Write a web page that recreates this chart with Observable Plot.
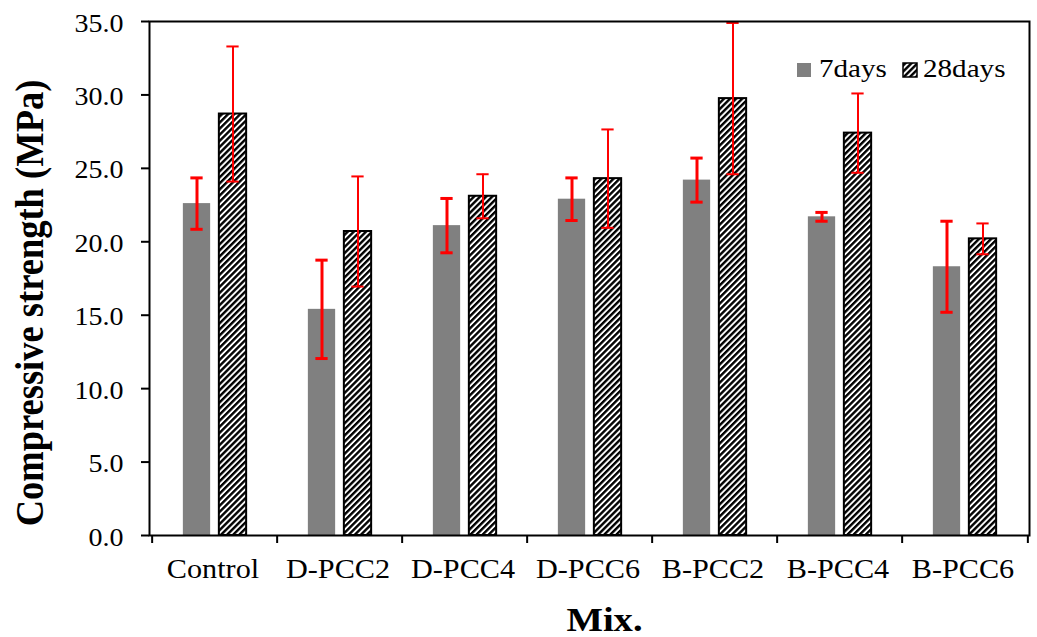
<!DOCTYPE html>
<html>
<head>
<meta charset="utf-8">
<script src="https://cdn.jsdelivr.net/npm/d3@7"></script>
<script src="https://cdn.jsdelivr.net/npm/@observablehq/plot@0.6"></script>
<style>
  html, body { margin: 0; padding: 0; background: #fff; }
  #chart { position: relative; width: 1037px; height: 637px; }
</style>
</head>
<body>
<div id="chart"></div>
<script>
// ---- data ----
const mixes = ["Control", "D-PCC2", "D-PCC4", "D-PCC6", "B-PCC2", "B-PCC4", "B-PCC6"];
const series = ["7days", "28days"];
const strength7 = [22.6, 15.4, 21.1, 22.9, 24.2, 21.7, 18.3];
const sd7 = [1.75, 3.35, 1.85, 1.45, 1.5, 0.3, 3.1];
const strength28 = [28.7, 20.7, 23.1, 24.3, 29.75, 27.4, 20.2];
const sd28 = [4.6, 3.75, 1.5, 3.35, 5.15, 2.7, 1.05];
const yTicks = [0, 5, 10, 15, 20, 25, 30, 35];
const yTitle = ["Compressive strength (MPa)"];
const xTitle = ["Mix."];

// ---- layout / style ----
const W = 1037, H = 637, mL = 149, mR = 8, mT = 21, mB = 102;
const plotH = H - mT - mB;
const bw = (W - mL - mR) / mixes.length;
const off = 18, halfBar = 14, halfCap = 6.5;
const red = "#ff0000";
const font = "'Liberation Serif', 'Times New Roman', serif";
const stretch = 1.12;

const rows = (vals, sds) => mixes.map((m, i) => ({mix: m, v: vals[i], lo: vals[i] - sds[i], hi: vals[i] + sds[i]}));
const rows7 = rows(strength7, sd7);
const rows28 = rows(strength28, sd28);

const plot = Plot.plot({
  width: W, height: H,
  marginLeft: mL, marginRight: mR, marginTop: mT, marginBottom: mB,
  style: {fontFamily: font, color: "#000", background: "#fff", overflow: "visible"},
  x: {domain: mixes, padding: 0},
  y: {domain: [0, 35]},
  marks: [
    // bars
    Plot.barY(rows7, {x: "mix", y: "v", fill: "#808080",
      insetLeft: bw / 2 - off - halfBar, insetRight: bw / 2 + off - halfBar}),
    Plot.barY(rows28, {x: "mix", y: "v", fill: "url(#hatch28)", stroke: "#000", strokeWidth: 2,
      insetLeft: bw / 2 + off - halfBar, insetRight: bw / 2 - off - halfBar}),
    // error bars 7 days
    Plot.ruleX(rows7, {x: "mix", y1: "lo", y2: "hi", stroke: red, strokeWidth: 3, dx: -off}),
    Plot.tickY(rows7, {x: "mix", y: "lo", stroke: red, strokeWidth: 3,
      insetLeft: bw / 2 - off - halfCap, insetRight: bw / 2 + off - halfCap}),
    Plot.tickY(rows7, {x: "mix", y: "hi", stroke: red, strokeWidth: 3,
      insetLeft: bw / 2 - off - halfCap, insetRight: bw / 2 + off - halfCap}),
    // error bars 28 days
    Plot.ruleX(rows28, {x: "mix", y1: "lo", y2: "hi", stroke: red, strokeWidth: 2, dx: off}),
    Plot.tickY(rows28, {x: "mix", y: "lo", stroke: red, strokeWidth: 2,
      insetLeft: bw / 2 + off - halfCap, insetRight: bw / 2 - off - halfCap}),
    Plot.tickY(rows28, {x: "mix", y: "hi", stroke: red, strokeWidth: 2,
      insetLeft: bw / 2 + off - halfCap, insetRight: bw / 2 - off - halfCap}),
    // frame
    Plot.frame({stroke: "#000", strokeWidth: 2}),
    // x boundary ticks
    Plot.ruleX(mixes, {stroke: "#000", strokeWidth: 2, dx: -bw / 2, insetTop: plotH, insetBottom: -8}),
    Plot.ruleX([mixes[mixes.length - 1]], {stroke: "#000", strokeWidth: 2, dx: bw / 2, insetTop: plotH, insetBottom: -8}),
    // axes
    Plot.axisX({tickSize: 0, tickPadding: 23, fontSize: 27, label: null, fill: "#000", dx: -2}),
    Plot.axisY({ticks: yTicks, tickSize: 8, strokeWidth: 2, stroke: "#000", tickFormat: () => "", label: null}),
    Plot.axisY({ticks: yTicks, tickSize: 0, tickPadding: 26, fontSize: 25, dy: 2,
      tickFormat: d3.format(".1f"), fill: "#000", label: null}),
    // titles
    Plot.text(yTitle, {text: d => d, frameAnchor: "left", textAnchor: "middle", lineAnchor: "middle",
      rotate: -90, dx: -119.5, dy: 24.5, fontSize: 36.5, fontWeight: "bold", fill: "#000"}),
    Plot.text(xTitle, {text: d => d, frameAnchor: "bottom", textAnchor: "middle", lineAnchor: "middle",
      dx: 15, dy: 84, fontSize: 34.5, fontWeight: "bold", fill: "#000"})
  ]
});

const svg = d3.select(plot);
// hatch pattern
const defs = svg.insert("defs", ":first-child");
const pat = defs.append("pattern").attr("id", "hatch28")
  .attr("patternUnits", "userSpaceOnUse").attr("width", 4.3).attr("height", 4.3)
  .attr("patternTransform", "rotate(45)");
pat.append("rect").attr("width", 4.3).attr("height", 4.3).attr("fill", "#fff");
pat.append("rect").attr("width", 2.4).attr("height", 4.3).attr("fill", "#000");

// legend
const lg = svg.append("g").attr("font-family", font).attr("font-size", 26)
  .attr("fill", "#000").attr("text-anchor", "start");
const legendItems = [
  {label: series[0], fill: "#808080", stroke: "none", x: 797, tx: 819},
  {label: series[1], fill: "url(#hatch28)", stroke: "#000", x: 903, tx: 923}
];
for (const it of legendItems) {
  lg.append("rect").attr("x", it.x).attr("y", 63).attr("width", 14).attr("height", 14)
    .attr("fill", it.fill).attr("stroke", it.stroke).attr("stroke-width", 1.5);
  lg.append("text").attr("x", it.tx).attr("y", 77).text(it.label);
}

// horizontal stretch of the text, as in the reference picture
svg.selectAll("text").each(function() {
  const t = d3.select(this);
  const x = +t.attr("x") || 0;
  const y = t.attr("y");
  const tr = t.attr("transform") || "";
  const rot = /rotate/.test(tr);
  t.attr("x", null);
  if (!rot && y !== null && !/em/.test(y)) {
    t.attr("y", null);
    t.attr("transform", `${tr} translate(${x},${y}) scale(${stretch},1)`);
  } else {
    t.attr("transform", `${tr} translate(${x},0) ${rot ? `scale(1,${stretch})` : `scale(${stretch},1)`}`);
  }
});

document.getElementById("chart").appendChild(plot);
</script>
</body>
</html>
